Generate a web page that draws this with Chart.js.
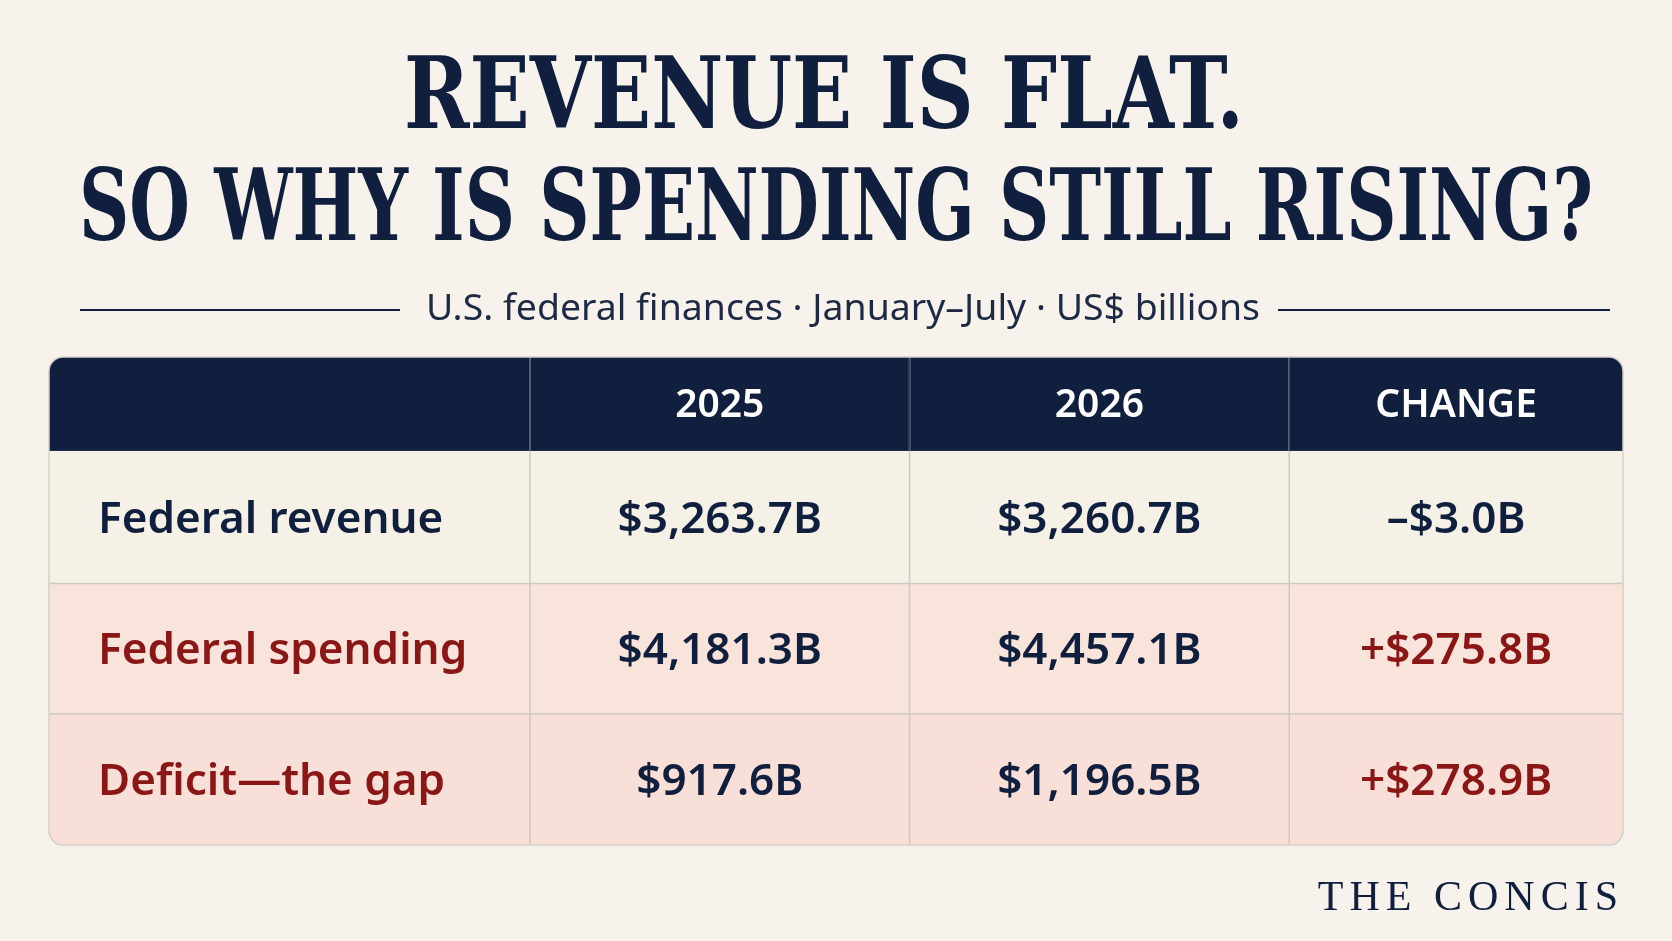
<!DOCTYPE html>
<html>
<head>
<meta charset="utf-8">
<script src="https://cdn.jsdelivr.net/npm/chart.js@4"></script>
<style>
  html, body { margin: 0; padding: 0; background: #f7f3ec; }
  #wrap { width: 1672px; height: 941px; }
</style>
</head>
<body>
<div id="wrap"><canvas id="tableChart"></canvas></div>
<script>
// Data
const columns = ['', '2025', '2026', 'CHANGE'];
const rowLabels = ['Federal revenue', 'Federal spending', 'Deficit\u2014the gap'];
const values2025 = ['$3,263.7B', '$4,181.3B', '$917.6B'];
const values2026 = ['$3,260.7B', '$4,457.1B', '$1,196.5B'];
const changes = ['\u2013$3.0B', '+$275.8B', '+$278.9B'];

// Layout in table units (column / row edges)
const colEdges = [0, 451, 807, 1163, 1476];
const rowEdges = [0, 88, 212, 334, 457];

const NAVY = '#0f1f3d';
const RED = '#8a1616';
const SANS = '"Noto Sans", "Open Sans", sans-serif';

const tablePlugin = {
    id: 'tablePlugin',
    beforeDraw(chart) {
        const ctx = chart.ctx;
        ctx.save();
        ctx.fillStyle = '#f7f3ec';
        ctx.fillRect(0, 0, chart.width, chart.height);
        ctx.restore();
    },
    afterDraw(chart) {
        const ctx = chart.ctx;
        const x = chart.scales.x, y = chart.scales.y;
        const X = v => x.getPixelForValue(v);
        const Y = v => y.getPixelForValue(v);
        const L = X(colEdges[0]), R = X(colEdges[4]);
        const T = Y(rowEdges[0]), B = Y(rowEdges[4]);
        ctx.save();

        // title
        ctx.fillStyle = NAVY;
        ctx.textAlign = 'center';
        ctx.textBaseline = 'alphabetic';
        ctx.font = 'bold 100px "DejaVu Serif Condensed", "DejaVu Serif", serif';
        const drawFit = (txt, cx, by, w) => {
            const m = ctx.measureText(txt).width;
            ctx.save();
            ctx.translate(cx, by);
            ctx.scale(w / m, 1);
            ctx.fillText(txt, 0, 0);
            ctx.restore();
        };
        drawFit('REVENUE IS FLAT.', 824, 128, 840);
        drawFit('SO WHY IS SPENDING STILL RISING?', 836, 240, 1514);

        // subtitle
        ctx.font = '36px ' + SANS;
        ctx.fillStyle = '#1e2a44';
        drawFit('U.S. federal finances \u00b7 January\u2013July \u00b7 US$ billions', 843, 320, 834);
        ctx.strokeStyle = NAVY;
        ctx.lineWidth = 2;
        ctx.beginPath();
        ctx.moveTo(80, 310); ctx.lineTo(400, 310);
        ctx.moveTo(1278, 310); ctx.lineTo(1610, 310);
        ctx.stroke();

        // table body clip
        const r = 14;
        ctx.save();
        ctx.beginPath();
        ctx.roundRect(L, T, R - L, B - T, r);
        ctx.clip();
        const bgs = [NAVY, '#f6f1e7', '#f9e4dc', '#f8dfd8'];
        for (let i = 0; i < 4; i++) {
            ctx.fillStyle = bgs[i];
            ctx.fillRect(L, Y(rowEdges[i]), R - L, Y(rowEdges[i + 1]) - Y(rowEdges[i]));
        }
        // grid lines
        ctx.strokeStyle = '#cfc9c2';
        ctx.lineWidth = 1.5;
        ctx.beginPath();
        for (let i = 2; i < 4; i++) {
            ctx.moveTo(L, Y(rowEdges[i])); ctx.lineTo(R, Y(rowEdges[i]));
        }
        for (let j = 1; j < 4; j++) {
            ctx.moveTo(X(colEdges[j]), T); ctx.lineTo(X(colEdges[j]), B);
        }
        ctx.stroke();
        ctx.strokeStyle = '#3a4866';
        ctx.beginPath();
        for (let j = 1; j < 4; j++) {
            ctx.moveTo(X(colEdges[j]), T); ctx.lineTo(X(colEdges[j]), Y(rowEdges[1]));
        }
        ctx.stroke();
        ctx.restore();
        ctx.strokeStyle = '#d6d0c8';
        ctx.lineWidth = 1.5;
        ctx.beginPath();
        ctx.roundRect(L, T, R - L, B - T, r);
        ctx.stroke();

        // header text
        ctx.textBaseline = 'middle';
        ctx.textAlign = 'center';
        ctx.fillStyle = '#ffffff';
        ctx.font = '600 39px ' + SANS;
        const midY = i => (Y(rowEdges[i]) + Y(rowEdges[i + 1])) / 2;
        const midX = j => (X(colEdges[j]) + X(colEdges[j + 1])) / 2;
        columns.forEach((c, j) => { if (c) ctx.fillText(c, midX(j), midY(0) + 2); });

        // body
        ctx.font = '600 44px ' + SANS;
        rowLabels.forEach((lab, i) => {
            const cy = midY(i + 1) + 3;
            ctx.textAlign = 'left';
            ctx.fillStyle = i === 0 ? NAVY : RED;
            ctx.fillText(lab, X(colEdges[0]) + 49, cy);
            ctx.textAlign = 'center';
            ctx.fillStyle = NAVY;
            ctx.fillText(values2025[i], midX(1), cy);
            ctx.fillText(values2026[i], midX(2), cy);
            ctx.fillStyle = i === 0 ? NAVY : RED;
            ctx.fillText(changes[i], midX(3), cy);
        });

        // footer
        ctx.textAlign = 'right';
        ctx.textBaseline = 'alphabetic';
        ctx.fillStyle = NAVY;
        ctx.font = '42px "Liberation Serif", "DejaVu Serif", serif';
        if (ctx.letterSpacing !== undefined) ctx.letterSpacing = '6px';
        ctx.fillText('THE CONCIS', 1624, 910);
        ctx.restore();
    }
};

new Chart(document.getElementById('tableChart'), {
    type: 'scatter',
    data: { datasets: [{ data: [] }] },
    options: {
        responsive: true,
        maintainAspectRatio: false,
        animation: false,
        events: [],
        layout: { padding: { left: 49, right: 49, top: 357, bottom: 96 } },
        plugins: { legend: { display: false }, tooltip: { enabled: false } },
        scales: {
            x: { type: 'linear', min: colEdges[0], max: colEdges[4], display: false },
            y: { type: 'linear', min: rowEdges[0], max: rowEdges[4], reverse: true, display: false }
        }
    },
    plugins: [tablePlugin]
});
</script>
</body>
</html>
